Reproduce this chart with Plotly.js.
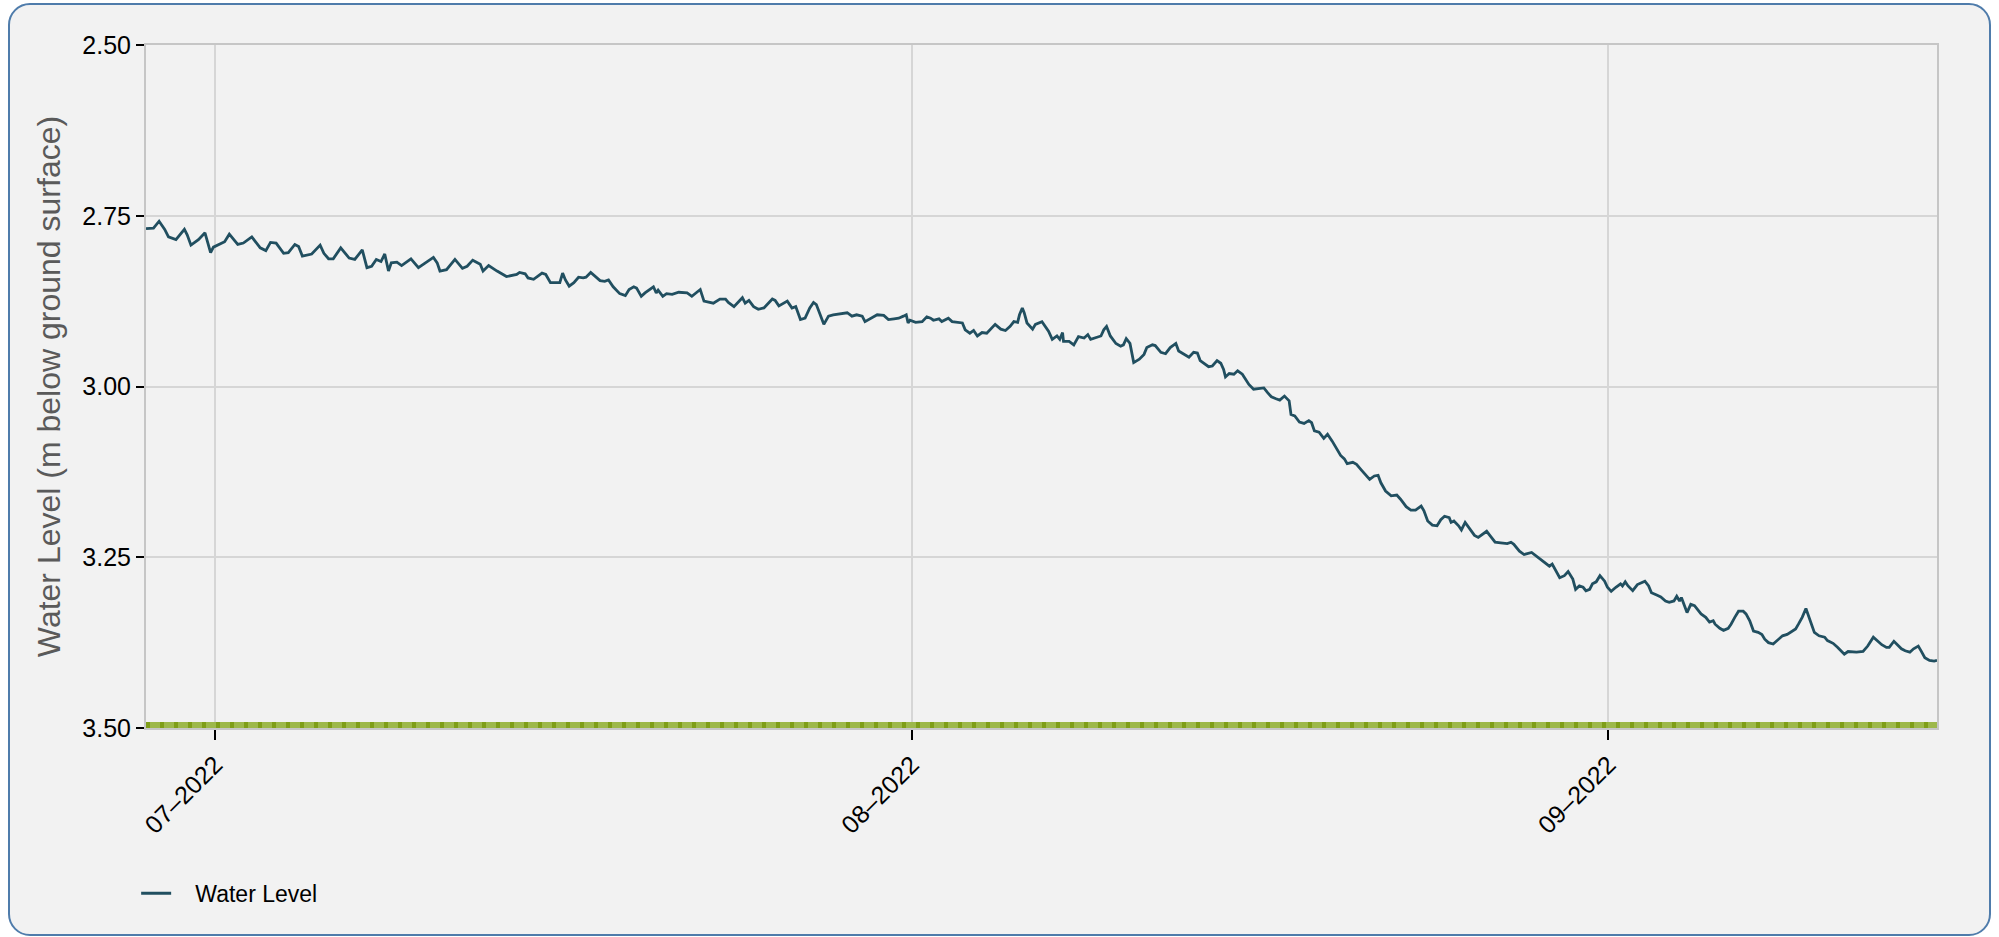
<!DOCTYPE html>
<html>
<head>
<meta charset="utf-8">
<script src="https://cdn.plot.ly/plotly-3.0.1.min.js"></script>
<style>
  html, body { margin: 0; padding: 0; background: #ffffff; }
  #frame {
    position: absolute; left: 8px; top: 3px; width: 1979px; height: 929px;
    border: 2px solid #4f7cab; border-radius: 22px; background: #f2f2f2;
  }
  #chart { position: absolute; left: 0; top: 0; width: 1999px; height: 937px; }
</style>
</head>
<body>
<div id="frame"></div>
<div id="chart"></div>
<script>
// ---- Data ----
const seriesName = "Water Level";
const yAxisTitle = "Water Level (m below ground surface)";
const groundLevel = 3.5;

const waterDates = [
  "2022-06-27 22:00","2022-06-28 06:00","2022-06-28 12:00","2022-06-28 18:00","2022-06-28 22:00",
  "2022-06-29 06:00","2022-06-29 15:00","2022-06-29 18:00","2022-06-29 22:00","2022-06-30 06:00",
  "2022-06-30 13:00","2022-06-30 19:00","2022-06-30 22:00","2022-07-01 10:00","2022-07-01 15:00",
  "2022-07-02 00:00","2022-07-02 06:00","2022-07-02 15:00","2022-07-03 00:00","2022-07-03 06:00",
  "2022-07-03 11:00","2022-07-03 17:00","2022-07-04 01:00","2022-07-04 06:00","2022-07-04 13:00",
  "2022-07-04 17:00","2022-07-04 21:00","2022-07-05 07:00","2022-07-05 16:00","2022-07-05 20:00",
  "2022-07-06 01:00","2022-07-06 06:00","2022-07-06 14:00","2022-07-06 23:00","2022-07-07 05:00",
  "2022-07-07 13:00","2022-07-07 18:00","2022-07-07 23:00","2022-07-08 04:00","2022-07-08 09:00",
  "2022-07-08 13:00","2022-07-08 17:00","2022-07-08 20:00","2022-07-09 02:00","2022-07-09 07:00",
  "2022-07-09 17:00","2022-07-10 01:00","2022-07-10 06:00","2022-07-10 17:00","2022-07-10 21:00",
  "2022-07-11 00:00","2022-07-11 07:00","2022-07-11 16:00","2022-07-12 00:00","2022-07-12 05:00",
  "2022-07-12 11:00","2022-07-12 19:00","2022-07-12 22:00","2022-07-13 04:00","2022-07-13 13:00",
  "2022-07-13 23:00","2022-07-14 10:00","2022-07-14 13:00","2022-07-14 19:00","2022-07-14 22:00",
  "2022-07-15 04:00","2022-07-15 13:00","2022-07-15 17:00","2022-07-15 22:00","2022-07-16 08:00",
  "2022-07-16 11:00","2022-07-16 14:00","2022-07-16 18:00","2022-07-16 23:00","2022-07-17 04:00",
  "2022-07-17 09:00","2022-07-17 12:00","2022-07-17 17:00","2022-07-17 22:00","2022-07-18 03:00",
  "2022-07-18 08:00","2022-07-18 12:00","2022-07-18 17:00","2022-07-19 00:00","2022-07-19 06:00",
  "2022-07-19 10:00","2022-07-19 15:00","2022-07-19 18:00","2022-07-19 23:00","2022-07-20 03:00",
  "2022-07-20 12:00","2022-07-20 15:00","2022-07-20 17:00","2022-07-20 22:00","2022-07-21 02:00",
  "2022-07-21 08:00","2022-07-21 15:00","2022-07-22 00:00","2022-07-22 05:00","2022-07-22 14:00",
  "2022-07-22 18:00","2022-07-23 04:00","2022-07-23 11:00","2022-07-23 17:00","2022-07-23 20:00",
  "2022-07-24 02:00","2022-07-24 11:00","2022-07-24 14:00","2022-07-24 18:00","2022-07-24 23:00",
  "2022-07-25 04:00","2022-07-25 10:00","2022-07-25 19:00","2022-07-25 22:00","2022-07-26 02:00",
  "2022-07-26 11:00","2022-07-26 16:00","2022-07-26 20:00","2022-07-27 01:00","2022-07-27 06:00",
  "2022-07-27 11:00","2022-07-27 15:00","2022-07-27 18:00","2022-07-27 22:00","2022-07-28 02:00",
  "2022-07-28 07:00","2022-07-28 12:00","2022-07-29 03:00","2022-07-29 08:00","2022-07-29 13:00",
  "2022-07-29 19:00","2022-07-29 22:00","2022-07-30 11:00","2022-07-30 18:00","2022-07-30 23:00",
  "2022-07-31 05:00","2022-07-31 10:00","2022-07-31 15:00","2022-07-31 18:00","2022-07-31 20:00",
  "2022-07-31 22:00","2022-08-01 04:00","2022-08-01 11:00","2022-08-01 16:00","2022-08-01 20:00",
  "2022-08-01 23:00","2022-08-02 05:00","2022-08-02 08:00","2022-08-02 15:00","2022-08-02 19:00",
  "2022-08-03 06:00","2022-08-03 09:00","2022-08-03 14:00","2022-08-03 18:00","2022-08-03 22:00",
  "2022-08-04 03:00","2022-08-04 08:00","2022-08-04 17:00","2022-08-04 23:00","2022-08-05 04:00",
  "2022-08-05 09:00","2022-08-05 13:00","2022-08-05 17:00","2022-08-05 19:00","2022-08-05 22:00",
  "2022-08-06 00:00","2022-08-06 03:00","2022-08-06 09:00","2022-08-06 12:00","2022-08-06 19:00",
  "2022-08-06 23:00","2022-08-07 02:00","2022-08-07 06:00","2022-08-07 11:00","2022-08-07 14:00",
  "2022-08-07 17:00","2022-08-07 18:00","2022-08-08 00:00","2022-08-08 05:00","2022-08-08 10:00",
  "2022-08-08 16:00","2022-08-08 20:00","2022-08-08 23:00","2022-08-09 10:00","2022-08-09 13:00",
  "2022-08-09 16:00","2022-08-09 20:00","2022-08-10 02:00","2022-08-10 07:00","2022-08-10 10:00",
  "2022-08-10 13:00","2022-08-10 17:00","2022-08-10 21:00","2022-08-11 03:00","2022-08-11 08:00",
  "2022-08-11 11:00","2022-08-11 17:00","2022-08-11 20:00","2022-08-12 02:00","2022-08-12 07:00",
  "2022-08-12 12:00","2022-08-12 18:00","2022-08-12 21:00","2022-08-13 03:00","2022-08-13 08:00",
  "2022-08-13 13:00","2022-08-13 17:00","2022-08-13 20:00","2022-08-14 05:00","2022-08-14 09:00",
  "2022-08-14 14:00","2022-08-14 18:00","2022-08-14 21:00","2022-08-14 23:00","2022-08-15 03:00",
  "2022-08-15 08:00","2022-08-15 12:00","2022-08-15 17:00","2022-08-16 00:00","2022-08-16 05:00",
  "2022-08-16 11:00","2022-08-16 16:00","2022-08-16 20:00","2022-08-17 00:00","2022-08-17 05:00",
  "2022-08-17 09:00","2022-08-17 14:00","2022-08-17 19:00","2022-08-17 21:00","2022-08-18 01:00",
  "2022-08-18 06:00","2022-08-18 11:00","2022-08-18 16:00","2022-08-18 19:00","2022-08-18 22:00",
  "2022-08-19 03:00","2022-08-19 08:00","2022-08-19 12:00","2022-08-19 17:00","2022-08-19 22:00",
  "2022-08-20 02:00","2022-08-20 06:00","2022-08-20 09:00","2022-08-20 15:00","2022-08-20 19:00",
  "2022-08-21 00:00","2022-08-21 05:00","2022-08-21 09:00","2022-08-21 14:00","2022-08-21 18:00",
  "2022-08-21 21:00","2022-08-22 02:00","2022-08-22 08:00","2022-08-22 14:00","2022-08-22 18:00",
  "2022-08-23 00:00","2022-08-23 05:00","2022-08-23 10:00","2022-08-23 16:00","2022-08-23 19:00",
  "2022-08-23 23:00","2022-08-24 04:00","2022-08-24 09:00","2022-08-24 13:00","2022-08-24 17:00",
  "2022-08-24 22:00","2022-08-25 00:00","2022-08-25 03:00","2022-08-25 08:00","2022-08-25 11:00",
  "2022-08-25 15:00","2022-08-25 19:00","2022-08-26 01:00","2022-08-26 05:00","2022-08-26 10:00",
  "2022-08-26 14:00","2022-08-26 18:00","2022-08-26 23:00","2022-08-27 05:00","2022-08-27 12:00",
  "2022-08-27 16:00","2022-08-27 19:00","2022-08-28 01:00","2022-08-28 06:00","2022-08-28 14:00",
  "2022-08-28 20:00","2022-08-29 01:00","2022-08-29 05:00","2022-08-29 09:00","2022-08-29 12:00",
  "2022-08-29 15:00","2022-08-29 20:00","2022-08-30 01:00","2022-08-30 05:00","2022-08-30 10:00",
  "2022-08-30 13:00","2022-08-30 17:00","2022-08-30 21:00","2022-08-31 00:00","2022-08-31 04:00",
  "2022-08-31 07:00","2022-08-31 11:00","2022-08-31 15:00","2022-08-31 20:00","2022-08-31 23:00",
  "2022-09-01 03:00","2022-09-01 08:00","2022-09-01 13:00","2022-09-01 15:00","2022-09-01 18:00",
  "2022-09-01 21:00","2022-09-02 02:00","2022-09-02 07:00","2022-09-02 15:00","2022-09-02 19:00",
  "2022-09-02 22:00","2022-09-03 03:00","2022-09-03 08:00","2022-09-03 13:00","2022-09-03 17:00",
  "2022-09-03 22:00","2022-09-04 01:00","2022-09-04 04:00","2022-09-04 06:00","2022-09-04 12:00",
  "2022-09-04 16:00","2022-09-04 20:00","2022-09-05 03:00","2022-09-05 08:00","2022-09-05 12:00",
  "2022-09-05 16:00","2022-09-05 18:00","2022-09-05 23:00","2022-09-06 03:00","2022-09-06 08:00",
  "2022-09-06 11:00","2022-09-06 15:00","2022-09-06 19:00","2022-09-07 00:00","2022-09-07 03:00",
  "2022-09-07 07:00","2022-09-07 11:00","2022-09-07 16:00","2022-09-07 20:00","2022-09-07 23:00",
  "2022-09-08 03:00","2022-09-08 08:00","2022-09-08 13:00","2022-09-08 18:00","2022-09-08 23:00",
  "2022-09-09 03:00","2022-09-09 08:00","2022-09-09 11:00","2022-09-09 15:00","2022-09-09 19:00",
  "2022-09-09 22:00","2022-09-10 01:00","2022-09-10 04:00","2022-09-10 09:00","2022-09-10 15:00",
  "2022-09-10 18:00","2022-09-11 00:00","2022-09-11 05:00","2022-09-11 12:00","2022-09-11 16:00",
  "2022-09-12 01:00","2022-09-12 08:00","2022-09-12 13:00","2022-09-12 19:00","2022-09-12 23:00",
  "2022-09-13 04:00","2022-09-13 09:00","2022-09-13 12:00","2022-09-13 17:00","2022-09-13 21:00",
  "2022-09-14 01:00","2022-09-14 05:00","2022-09-14 10:00","2022-09-14 14:00","2022-09-14 19:00",
  "2022-09-14 22:00","2022-09-15 02:00","2022-09-15 07:00","2022-09-15 12:00","2022-09-15 15:00"
];

const waterLevel = [
  2.769,2.768,2.758,2.770,2.781,
  2.785,2.770,2.778,2.793,2.785,
  2.775,2.804,2.796,2.788,2.777,
  2.792,2.790,2.781,2.797,2.801,
  2.789,2.790,2.805,2.804,2.792,
  2.795,2.809,2.806,2.793,2.805,
  2.813,2.813,2.797,2.812,2.814,
  2.800,2.826,2.824,2.814,2.817,
  2.806,2.831,2.819,2.818,2.823,
  2.813,2.826,2.821,2.811,2.819,
  2.831,2.829,2.814,2.827,2.824,
  2.815,2.821,2.831,2.823,2.831,
  2.839,2.836,2.833,2.835,2.841,
  2.843,2.834,2.836,2.848,2.848,
  2.834,2.844,2.853,2.848,2.840,
  2.841,2.840,2.833,2.839,2.845,
  2.846,2.844,2.854,2.864,2.867,
  2.858,2.854,2.856,2.868,2.863,
  2.854,2.863,2.859,2.868,2.864,
  2.865,2.862,2.863,2.868,2.858,
  2.875,2.878,2.872,2.872,2.877,
  2.883,2.870,2.878,2.874,2.883,
  2.887,2.885,2.872,2.874,2.882,
  2.875,2.885,2.883,2.902,2.900,
  2.885,2.877,2.880,2.895,2.909,
  2.897,2.895,2.892,2.897,2.895,
  2.897,2.905,2.895,2.896,2.902,
  2.901,2.900,2.897,2.895,2.907,
  2.903,2.906,2.905,2.898,2.900,
  2.903,2.901,2.905,2.900,2.905,
  2.907,2.917,2.922,2.918,2.926,
  2.921,2.922,2.909,2.916,2.918,
  2.912,2.905,2.906,2.895,2.885,
  2.892,2.907,2.916,2.909,2.905,
  2.912,2.919,2.931,2.926,2.931,
  2.921,2.934,2.934,2.939,2.927,
  2.929,2.924,2.931,2.926,2.917,
  2.912,2.926,2.937,2.941,2.939,
  2.930,2.937,2.965,2.960,2.953,
  2.943,2.939,2.940,2.950,2.952,
  2.943,2.937,2.948,2.953,2.957,
  2.950,2.951,2.962,2.971,2.970,
  2.962,2.966,2.975,2.986,2.981,
  2.982,2.977,2.982,2.997,3.004,
  3.003,3.002,3.009,3.015,3.018,
  3.020,3.014,3.021,3.041,3.043,
  3.052,3.054,3.050,3.053,3.065,
  3.067,3.076,3.070,3.080,3.092,
  3.101,3.106,3.113,3.111,3.114,
  3.122,3.129,3.136,3.131,3.130,
  3.141,3.153,3.160,3.159,3.165,
  3.176,3.181,3.181,3.175,3.182,
  3.197,3.203,3.204,3.195,3.190,
  3.192,3.199,3.197,3.204,3.210,
  3.199,3.207,3.218,3.221,3.216,
  3.212,3.219,3.228,3.229,3.230,
  3.228,3.231,3.241,3.246,3.243,
  3.249,3.254,3.258,3.263,3.260,
  3.268,3.280,3.277,3.271,3.282,
  3.297,3.292,3.294,3.299,3.297,
  3.289,3.286,3.277,3.285,3.294,
  3.300,3.294,3.289,3.292,3.286,
  3.292,3.299,3.290,3.285,3.292,
  3.302,3.305,3.308,3.314,3.316,
  3.314,3.307,3.314,3.309,3.331,
  3.319,3.321,3.333,3.338,3.345,
  3.343,3.348,3.354,3.357,3.354,
  3.348,3.338,3.329,3.329,3.333,
  3.343,3.358,3.360,3.363,3.370,
  3.375,3.377,3.371,3.365,3.363,
  3.360,3.355,3.348,3.338,3.325,
  3.336,3.348,3.360,3.365,3.367,
  3.372,3.376,3.382,3.392,3.388,
  3.389,3.388,3.380,3.367,3.372,
  3.378,3.382,3.382,3.373,3.378,
  3.384,3.387,3.389,3.384,3.380,
  3.387,3.397,3.401,3.402,3.401
];

const yTickValues = [2.5, 2.75, 3.0, 3.25, 3.5];

// ---- Chart ----
const FONT = '"Liberation Sans", Arial, Helvetica, sans-serif';

const traces = [{
  x: waterDates,
  y: waterLevel,
  type: 'scatter',
  mode: 'lines',
  name: '\u00a0\u00a0\u00a0' + seriesName,
  line: { color: '#214f60', width: 2.8 },
  hoverinfo: 'x+y'
}];

const layout = {
  width: 1999,
  height: 937,
  paper_bgcolor: 'rgba(0,0,0,0)',
  plot_bgcolor: '#f2f2f2',
  margin: { l: 146, r: 62, t: 45, b: 209, pad: 0 },
  font: { family: FONT, color: '#000000', size: 24 },
  showlegend: true,
  legend: {
    orientation: 'h',
    x: -0.0055, xanchor: 'left',
    y: -0.242, yanchor: 'middle',
    bgcolor: 'rgba(0,0,0,0)',
    font: { family: FONT, size: 23, color: '#000000' }
  },
  xaxis: {
    type: 'date',
    tickformat: '%m\u2013%Y',
    dtick: 'M1',
    tick0: '2022-07-01',
    tickangle: -45,
    tickfont: { family: FONT, size: 25, color: '#000000' },
    ticks: 'outside', ticklen: 10, tickwidth: 2, tickcolor: '#000000',
    showgrid: true, gridcolor: '#d6d6d6', gridwidth: 2,
    showline: true, linecolor: '#c6c6c6', linewidth: 2, mirror: true,
    zeroline: false,
    automargin: false
  },
  yaxis: {
    range: [3.5, 2.5],
    tickvals: yTickValues,
    tickformat: '.2f',
    tickfont: { family: FONT, size: 25, color: '#000000' },
    ticks: 'outside', ticklen: 8, tickwidth: 2, tickcolor: '#000000',
    showgrid: true, gridcolor: '#d6d6d6', gridwidth: 2,
    showline: true, linecolor: '#c6c6c6', linewidth: 2, mirror: true,
    zeroline: false,
    automargin: false,
    title: { text: yAxisTitle, font: { family: FONT, size: 32, color: '#5a5a5a' }, standoff: 12 }
  },
  shapes: [
    { type: 'line', xref: 'paper', yref: 'y', x0: 0, x1: 1, y0: groundLevel, y1: groundLevel,
      line: { color: '#9db84a', width: 12 }, layer: 'above' },
    { type: 'line', xref: 'paper', yref: 'y', x0: 0, x1: 1, y0: groundLevel, y1: groundLevel,
      line: { color: '#7f9e18', width: 12, dash: '4px,10px' }, layer: 'above' }
  ]
};

Plotly.newPlot('chart', traces, layout, { displayModeBar: false, responsive: false });
</script>
</body>
</html>
